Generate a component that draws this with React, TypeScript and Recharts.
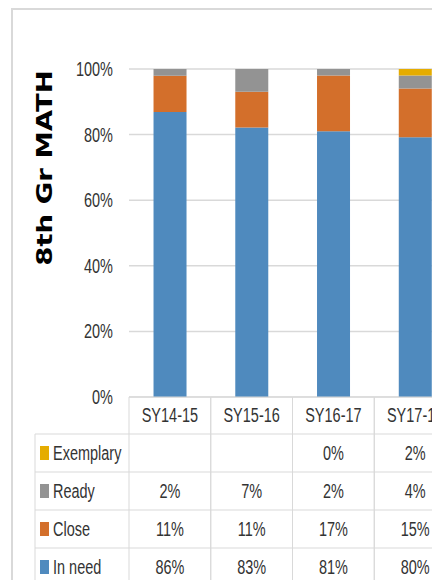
import { Bar, BarChart, CartesianGrid, XAxis, YAxis } from "recharts";

const years = ["SY14-15", "SY15-16", "SY16-17", "SY17-18"];
const inNeed = [86, 83, 81, 80];
const close = [11, 11, 17, 15];
const ready = [2, 7, 2, 4];
const exemplary = [null, null, 0, 2];
const yTicks = [0, 0.2, 0.4, 0.6, 0.8, 1];

const series = [
  { key: "exemplary", name: "Exemplary", color: "#e5ac00", values: exemplary },
  { key: "ready", name: "Ready", color: "#939393", values: ready },
  { key: "close", name: "Close", color: "#d36f2b", values: close },
  { key: "inNeed", name: "In need", color: "#4f8abe", values: inNeed },
];

const data = years.map((year, i) => ({
  year,
  inNeed: inNeed[i],
  close: close[i],
  ready: ready[i],
  exemplary: exemplary[i],
}));

// layout of the chart / table
const chartW = 470;
const chartH = 600;
const yAxisW = 121;
const marginRight = 22;
const colW = (chartW - yAxisW - marginRight) / years.length;
const headerH = 37;
const rowH = 38;
const legendLeft = 27;
const lineColor = "#d9d9d9";
const textColor = "#333";

function Txt({ x, y, children, anchor = "middle" }: any) {
  return (
    <text
      transform={`translate(${x},${y}) scale(0.69,1)`}
      textAnchor={anchor}
      dominantBaseline="central"
      fontSize={21}
      fontFamily="'Liberation Sans', Arial, sans-serif"
      fill={textColor}
    >
      {children}
    </text>
  );
}

function YTick(props: any) {
  const { x, y, payload } = props;
  return (
    <Txt x={x} y={y} anchor="end">
      {Math.round(payload.value * 100) + "%"}
    </Txt>
  );
}

// each x tick draws its column of the data table
function TableTick(props: any) {
  const { x, y, payload, index } = props;
  const left = x - colW / 2;
  const right = x + colW / 2;
  const bottom = y + headerH + rowH * series.length;
  const rows = series.map((s, r) => {
    const top = y + headerH + r * rowH;
    const v = s.values[index];
    return (
      <g key={s.key}>
        <line x1={left} x2={right} y1={top} y2={top} stroke={lineColor} />
        <Txt x={x} y={top + rowH / 2}>
          {v === null ? "" : v + "%"}
        </Txt>
        {index === 0 && (
          <g>
            <line x1={legendLeft} x2={left} y1={top} y2={top} stroke={lineColor} />
            <rect x={legendLeft + 5} y={top + rowH / 2 - 7} width={9} height={14} fill={s.color} />
            <Txt x={legendLeft + 18} y={top + rowH / 2} anchor="start">
              {s.name}
            </Txt>
          </g>
        )}
      </g>
    );
  });
  return (
    <g>
      <line x1={left} x2={right} y1={y} y2={y} stroke={lineColor} />
      <line x1={left} x2={left} y1={y} y2={bottom} stroke={lineColor} />
      <line x1={right} x2={right} y1={y} y2={bottom} stroke={lineColor} />
      <line x1={left} x2={right} y1={bottom} y2={bottom} stroke={lineColor} />
      {index === 0 && (
        <g>
          <line x1={legendLeft} x2={legendLeft} y1={y + headerH} y2={bottom} stroke={lineColor} />
          <line x1={legendLeft} x2={left} y1={bottom} y2={bottom} stroke={lineColor} />
        </g>
      )}
      <Txt x={x} y={y + headerH / 2}>
        {payload.value}
      </Txt>
      {rows}
    </g>
  );
}

function Title() {
  return (
    <text
      transform="translate(36,160) rotate(-90) scale(1.25,1)"
      textAnchor="middle"
      dominantBaseline="central"
      fontSize={22}
      fontWeight="bold"
      fontFamily="'DejaVu Sans', Verdana, sans-serif"
      fill="#000"
    >
      8th Gr MATH
    </text>
  );
}

export default function App() {
  return (
    <div style={{ position: "relative", width: 432, height: 572, overflow: "hidden", background: "#fff" }}>
      <div
        style={{
          position: "absolute",
          left: 3,
          top: 0,
          width: 600,
          height: 700,
          border: "2px solid #d9d9d9",
        }}
      />
      <div style={{ position: "absolute", left: 0, top: 0 }}>
        <BarChart
          width={chartW}
          height={chartH}
          data={data}
          stackOffset="expand"
          barCategoryGap="30%"
          margin={{ top: 61, right: marginRight, left: 0, bottom: 0 }}
        >
          <CartesianGrid vertical={false} stroke={lineColor} strokeWidth={1.5} />
          <XAxis
            dataKey="year"
            height={chartH - 61 - 328}
            interval={0}
            axisLine={false}
            tickLine={false}
            tickSize={0}
            tickMargin={0}
            tick={<TableTick />}
          />
          <YAxis
            width={yAxisW}
            domain={[0, 1]}
            ticks={yTicks}
            axisLine={false}
            tickLine={false}
            tickSize={0}
            tickMargin={16}
            tick={<YTick />}
            label={<Title />}
          />
          {[...series].reverse().map((s) => (
            <Bar
              key={s.key}
              dataKey={s.key}
              name={s.name}
              stackId="a"
              fill={s.color}
              isAnimationActive={false}
            />
          ))}
        </BarChart>
      </div>
    </div>
  );
}
